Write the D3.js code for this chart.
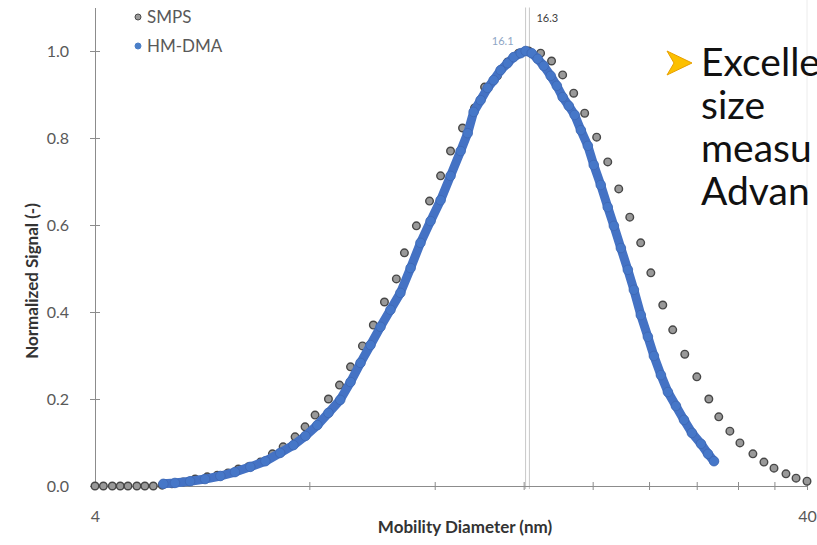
<!DOCTYPE html>
<meta charset="utf-8">
<style>
body { margin: 0; background: #fff; }
svg { font-family: Lato, "Open Sans", sans-serif; }
.axis path, .axis line { stroke: #8c8c8c; }
.axis text { fill: #595959; font-size: 16px; font-family: Lato, sans-serif; }
.title { font-weight: bold; font-size: 17px; fill: #333; }
</style>
<svg width="817" height="545"></svg>
<script src="https://d3js.org/d3.v7.min.js"></script>
<script>

// SMPS scan (grey markers)
var smpsD = [4.00, 4.11, 4.23, 4.34, 4.45, 4.58, 4.70, 4.83, 4.97, 5.13, 5.32, 5.53, 5.75, 5.94,
  6.15, 6.36, 6.57, 6.83, 7.10, 7.35, 7.64, 7.89, 8.15, 8.51, 8.82, 9.14, 9.50, 9.84, 10.20,
  10.60, 10.88, 11.31, 11.80, 12.23, 12.63, 13.13, 13.65, 14.10, 14.70, 15.19, 15.74, 16.26,
  16.90, 17.51, 18.15, 18.81, 19.49, 20.26, 21.00, 21.76, 22.55, 23.36, 24.14, 25.09, 25.91,
  26.94, 28.01, 29.12, 30.07, 31.17, 32.20, 33.58, 34.80, 35.95, 37.37, 38.61, 40.00];
var smpsV = [0, 0, 0, 0, 0, 0, 0, 0, 0.002, 0.005, 0.009, 0.016, 0.021, 0.025,
  0.030, 0.039, 0.044, 0.055, 0.074, 0.090, 0.113, 0.136, 0.163, 0.200, 0.232, 0.274, 0.322, 0.370, 0.423,
  0.476, 0.536, 0.598, 0.655, 0.713, 0.770, 0.823, 0.869, 0.917, 0.943, 0.975, 0.995, 1.000,
  0.995, 0.977, 0.945, 0.903, 0.857, 0.802, 0.745, 0.683, 0.618, 0.559, 0.490, 0.416, 0.359,
  0.303, 0.251, 0.200, 0.159, 0.126, 0.099, 0.074, 0.055, 0.041, 0.028, 0.018, 0.011];

// HM-DMA scan (blue)
var hmD = [4.99, 5.18, 5.44, 5.71, 6.00, 6.29, 6.61, 6.94, 7.28, 7.60, 7.90, 8.21, 8.51, 8.84,
  9.14, 9.44, 9.75, 10.07, 10.40, 10.74, 11.10, 11.46, 11.84, 12.23, 12.63, 13.05, 13.35, 13.61,
  13.92, 14.24, 14.52, 14.85, 15.19, 15.49, 15.85, 16.10, 16.42, 16.74, 17.07, 17.46, 17.81,
  18.15, 18.51, 18.87, 19.25, 19.69, 20.07, 20.53, 21.00, 21.42, 21.91, 22.41, 22.85, 23.37,
  23.91, 24.38, 24.94, 25.51, 26.18, 26.87, 27.57, 28.39, 29.04, 29.61];
var hmV = [0.005, 0.007, 0.011, 0.016, 0.023, 0.032, 0.044, 0.057, 0.076, 0.094, 0.115, 0.140, 0.168, 0.198,
  0.239, 0.283, 0.324, 0.366, 0.405, 0.444, 0.501, 0.559, 0.609, 0.657, 0.713, 0.770, 0.811, 0.860,
  0.887, 0.915, 0.933, 0.956, 0.972, 0.986, 0.995, 1.000, 0.995, 0.982, 0.966, 0.943, 0.920,
  0.894, 0.874, 0.853, 0.818, 0.782, 0.738, 0.692, 0.641, 0.598, 0.547, 0.497, 0.451, 0.393,
  0.343, 0.299, 0.255, 0.216, 0.184, 0.152, 0.122, 0.097, 0.074, 0.057];

var xTicks = [4, 8, 12, 16, 20, 24, 28, 32, 36, 40];
var yTicks = [0, 0.2, 0.4, 0.6, 0.8, 1.0];
var peaks = [{d: 16.1, label: "16.1", color: "#8ea6c6"}, {d: 16.3, label: "16.3", color: "#404040"}];
var bullets = ["Excelle", "size", "measu", "Advan"];

var svg = d3.select("svg");

var x = d3.scaleLog().domain([4, 40]).range([95, 807]);
var y = d3.scaleLinear().domain([0, 1.1]).range([486, 7.5]);

// faint frame edge on the right
svg.append("line")
  .attr("x1", 807).attr("x2", 807).attr("y1", 0).attr("y2", 486)
  .attr("stroke", "#ececec");

// peak markers
svg.selectAll(".peak").data(peaks).enter().append("line")
  .attr("class", "peak")
  .attr("x1", function(d) { return x(d.d); })
  .attr("x2", function(d) { return x(d.d); })
  .attr("y1", y(1.1)).attr("y2", y(0) + 3)
  .attr("stroke", "#c8c8c8").attr("stroke-width", 1);

svg.append("text").datum(peaks[0])
  .attr("x", function(d) { return x(d.d) - 12; }).attr("y", 45)
  .attr("text-anchor", "end").attr("font-size", "11px")
  .attr("fill", function(d) { return d.color; })
  .text(function(d) { return d.label; });

svg.append("text").datum(peaks[1])
  .attr("x", function(d) { return x(d.d) + 7; }).attr("y", 22)
  .attr("font-size", "11px")
  .attr("fill", function(d) { return d.color; })
  .text(function(d) { return d.label; });

// axes
var xAxis = svg.append("g").attr("class", "axis")
  .attr("transform", "translate(0," + y(0) + ")")
  .call(d3.axisBottom(x).tickValues(xTicks).tickSizeOuter(0).tickPadding(19)
    .tickFormat(function(d) { return (d == 4 || d == 40) ? d : ""; }));
xAxis.selectAll(".tick line").attr("y1", -4).attr("y2", 4);

var yAxis = svg.append("g").attr("class", "axis")
  .attr("transform", "translate(" + x(4) + ",0)")
  .call(d3.axisLeft(y).tickValues(yTicks).tickSizeOuter(0).tickPadding(20)
    .tickFormat(d3.format(".1f")));
yAxis.selectAll(".tick line").attr("x1", -5).attr("x2", 5);

// SMPS markers
svg.append("g").selectAll("circle")
  .data(smpsD).enter().append("circle")
  .attr("cx", function(d) { return x(d); })
  .attr("cy", function(d, i) { return y(smpsV[i]); })
  .attr("r", 3.8)
  .attr("fill", "#999").attr("stroke", "#474747").attr("stroke-width", 1.4);

// HM-DMA: dense markers drawn as a thick band
var hm = hmD.map(function(d, i) { return [x(d), y(hmV[i])]; });
svg.append("path")
  .attr("d", d3.line()(hm))
  .attr("fill", "none").attr("stroke", "#4472c4")
  .attr("stroke-width", 9).attr("stroke-linecap", "round").attr("stroke-linejoin", "round");
svg.append("g").selectAll("circle")
  .data(hm).enter().append("circle")
  .attr("cx", function(d) { return d[0]; })
  .attr("cy", function(d) { return d[1]; })
  .attr("r", 4.8)
  .attr("fill", "#4677c8").attr("stroke", "#3d67b3").attr("stroke-width", 0.8);

// legend
var legend = svg.selectAll(".legend")
  .data([{name: "SMPS", fill: "#9a9a9a", stroke: "#4a4a4a"}, {name: "HM-DMA", fill: "#4a7fc8", stroke: "#4a7fc8"}])
  .enter().append("g").attr("class", "legend")
  .attr("transform", function(d, i) { return "translate(138," + (17 + 29 * i) + ")"; });
legend.append("circle").attr("r", 3)
  .attr("fill", function(d) { return d.fill; })
  .attr("stroke", function(d) { return d.stroke; });
legend.append("text").attr("x", 9).attr("dy", "0.35em")
  .attr("font-size", "17px").attr("fill", "#595959")
  .text(function(d) { return d.name; });

// axis titles
svg.append("text").attr("class", "title")
  .attr("x", 465).attr("y", 533).attr("text-anchor", "middle")
  .text("Mobility Diameter (nm)");
svg.append("text").attr("class", "title")
  .attr("transform", "translate(38,281) rotate(-90)").attr("text-anchor", "middle")
  .text("Normalized Signal (-)");

// slide text on the right
svg.append("path")
  .attr("d", "M667,51 L692,63 L667,75 L674,63 Z")
  .attr("fill", "#fcc000").attr("stroke", "#e8a000").attr("stroke-width", 1);
svg.selectAll(".bullet").data(bullets).enter().append("text")
  .attr("class", "bullet")
  .attr("x", 701)
  .attr("y", function(d, i) { return 76 + 43 * i; })
  .attr("font-size", "39px").attr("fill", "#111")
  .attr("font-family", "Lato, 'Open Sans', sans-serif")
  .text(function(d) { return d; });

</script>
